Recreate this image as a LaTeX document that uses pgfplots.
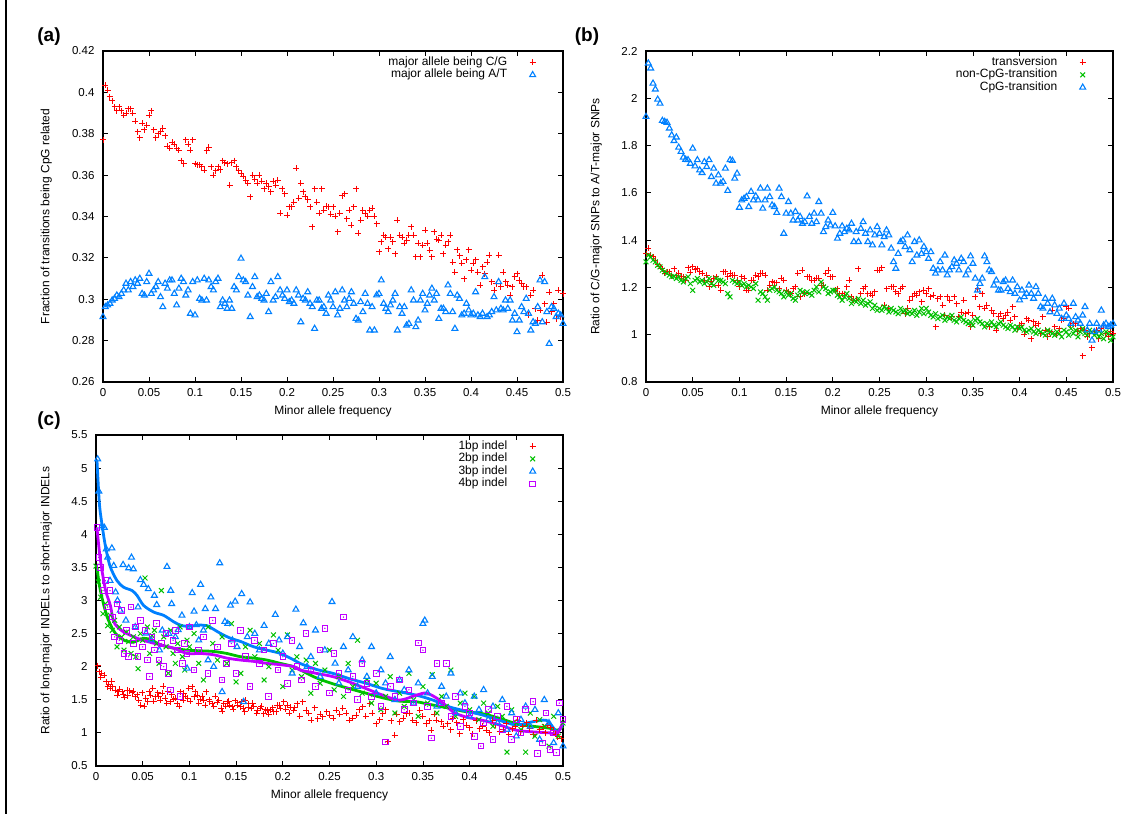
\documentclass[border=0pt]{standalone}
\usepackage{fontspec}
\setmainfont{Liberation Sans}
\usepackage{pgfplots}
\pgfplotsset{compat=1.18}
\usepackage{pgfplotstable}

\definecolor{gpred}{RGB}{255,0,0}
\definecolor{gpgreen}{RGB}{0,192,0}
\definecolor{gpblue}{RGB}{0,128,255}
\definecolor{gpmag}{RGB}{192,0,255}
\newcommand\fs{\fontsize{12}{14}\selectfont}
\newcommand\fst{\fontsize{11.5}{13.5}\selectfont}

% ---------- panel (a): x, C/G-major, A/T-major ----------
\pgfplotstableread{
x r b
0.0000 0.377 0.2915
0.0025 0.4035 0.2963
0.0050 0.401 0.2971
0.0075 0.398 0.2979
0.0100 0.396 0.2995
0.0125 0.393 0.3003
0.0150 0.391 0.3019
0.0175 0.393 0.3011
0.0200 0.391 0.3027
0.0225 0.389 0.3044
0.0250 0.390 0.3076
0.0275 0.392 0.3044
0.0300 0.392 0.3084
0.0325 0.390 0.3060
0.0350 0.386 0.3092
0.0375 0.381 0.3076
0.0400 0.378 0.3100
0.0425 0.385 0.3027
0.0450 0.382 0.3019
0.0475 0.384 0.3084
0.0500 0.389 0.3124
0.0525 0.391 0.3027
0.0550 0.382 0.3044
0.0575 0.378 0.3060
0.0600 0.380 0.3084
0.0625 0.381 0.3011
0.0650 0.3826 0.2963
0.0675 0.379 0.3076
0.0700 0.374 0.3052
0.0725 0.373 0.3092
0.0750 0.376 0.3092
0.0775 0.375 0.3027
0.0800 0.373 0.2971
0.0825 0.372 0.3052
0.0850 0.367 0.3100
0.0875 0.3655 0.3084
0.0900 0.377 0.3019
0.0925 0.375 0.3044
0.0950 0.372 0.2931
0.0975 0.377 0.3084
0.1000 0.3656 0.2923
0.1025 0.3650 0.3092
0.1050 0.365 0.3003
0.1075 0.364 0.2995
0.1100 0.3624 0.3100
0.1125 0.3717 0.2995
0.1150 0.3734 0.3092
0.1175 0.364 0.3060
0.1200 0.360 0.3044
0.1225 0.362 0.3084
0.1250 0.364 0.3100
0.1275 0.3625 0.2963
0.1300 0.367 0.2995
0.1325 0.366 0.2979
0.1350 0.3656 0.2955
0.1375 0.355 0.2995
0.1400 0.366 0.2955
0.1425 0.367 0.3060
0.1450 0.364 0.3044
0.1475 0.362 0.3108
0.1500 0.361 0.3197
0.1525 0.3595 0.3092
0.1550 0.3576 0.3084
0.1575 0.356 0.3019
0.1600 0.3495 0.2915
0.1625 0.360 0.3060
0.1650 0.358 0.3108
0.1675 0.356 0.3011
0.1700 0.360 0.3019
0.1725 0.357 0.3003
0.1750 0.3535 0.2995
0.1775 0.356 0.3027
0.1800 0.3544 0.2939
0.1825 0.352 0.3084
0.1850 0.357 0.2995
0.1875 0.355 0.3011
0.1900 0.3576 0.3108
0.1925 0.3415 0.3044
0.1950 0.3535 0.3019
0.1975 0.351 0.3003
0.2000 0.3407 0.3044
0.2025 0.3447 0.2987
0.2050 0.3447 0.2995
0.2075 0.347 0.2979
0.2100 0.3632 0.3044
0.2125 0.3487 0.3019
0.2150 0.356 0.2890
0.2175 0.352 0.3003
0.2200 0.3495 0.2995
0.2225 0.348 0.3035
0.2250 0.3447 0.2979
0.2275 0.335 0.2963
0.2300 0.3535 0.2858
0.2325 0.347 0.2995
0.2350 0.3415 0.2995
0.2375 0.3535 0.2955
0.2400 0.343 0.2963
0.2425 0.345 0.2931
0.2450 0.3447 0.3019
0.2475 0.341 0.2995
0.2500 0.3447 0.2963
0.2525 0.340 0.3035
0.2550 0.3326 0.2923
0.2575 0.3415 0.2955
0.2600 0.350 0.3044
0.2625 0.3511 0.2995
0.2650 0.339 0.2963
0.2675 0.343 0.3003
0.2700 0.3358 0.3035
0.2725 0.3447 0.2979
0.2750 0.3535 0.2906
0.2775 0.3318 0.2898
0.2800 0.3382 0.2987
0.2825 0.343 0.2939
0.2850 0.3415 0.3027
0.2875 0.340 0.2979
0.2900 0.343 0.2850
0.2925 0.344 0.2963
0.2950 0.340 0.2850
0.2975 0.3365 0.3020
0.3000 0.3229 0.3027
0.3025 0.3277 0.3092
0.3050 0.331 0.2979
0.3075 0.330 0.2955
0.3100 0.3245 0.2939
0.3125 0.330 0.2971
0.3150 0.3277 0.2995
0.3175 0.322 0.3027
0.3200 0.3382 0.2850
0.3225 0.331 0.2963
0.3250 0.330 0.2931
0.3275 0.327 0.2963
0.3300 0.3285 0.2874
0.3325 0.331 0.2882
0.3350 0.335 0.3044
0.3375 0.331 0.2995
0.3400 0.3205 0.2866
0.3425 0.327 0.2898
0.3450 0.3205 0.2995
0.3475 0.326 0.3027
0.3500 0.3334 0.2947
0.3525 0.327 0.2979
0.3550 0.3237 0.3019
0.3575 0.3205 0.3052
0.3600 0.3326 0.2995
0.3625 0.329 0.3027
0.3650 0.3285 0.2906
0.3675 0.331 0.2955
0.3700 0.322 0.2955
0.3725 0.326 0.2939
0.3750 0.3277 0.3068
0.3775 0.331 0.3027
0.3800 0.318 0.2939
0.3825 0.313 0.2858
0.3850 0.324 0.3019
0.3875 0.321 0.3003
0.3900 0.3173 0.2923
0.3925 0.310 0.2931
0.3950 0.319 0.2979
0.3975 0.324 0.2947
0.4000 0.314 0.2923
0.4025 0.3173 0.2931
0.4050 0.319 0.3035
0.4075 0.313 0.2923
0.4100 0.3068 0.2915
0.4125 0.3156 0.2931
0.4150 0.3124 0.3108
0.4175 0.3180 0.2915
0.4200 0.3213 0.2923
0.4225 0.3085 0.2939
0.4250 0.3044 0.3011
0.4275 0.3076 0.2947
0.4300 0.3213 0.3084
0.4325 0.3060 0.2955
0.4350 0.313 0.2947
0.4375 0.3085 0.2995
0.4400 0.3068 0.2955
0.4425 0.3019 0.2995
0.4450 0.306 0.2898
0.4475 0.3108 0.2931
0.4500 0.3124 0.2842
0.4525 0.3092 0.2898
0.4550 0.3076 0.2963
0.4575 0.3060 0.2939
0.4600 0.306 0.3003
0.4625 0.2923 0.2931
0.4650 0.3019 0.2850
0.4675 0.3044 0.2890
0.4700 0.2955 0.2882
0.4725 0.2898 0.2963
0.4750 0.2947 0.3092
0.4775 0.3116 0.2890
0.4800 0.2979 0.3084
0.4825 0.2890 0.2939
0.4850 0.3035 0.2785
0.4875 0.2939 0.2963
0.4900 0.2979 0.2955
0.4925 0.2906 0.2915
0.4950 0.3044 0.2931
0.4975 0.2915 0.2923
0.5000 0.3027 0.2882
}\tabA

% ---------- panel (b): x, transversion, non-CpG, CpG ----------
\pgfplotstableread{
x r g b
0.0000 1.343 1.308 1.922
0.0025 1.365 1.336 2.148
0.0050 1.336 1.329 2.127
0.0075 1.329 1.315 2.063
0.0100 1.315 1.308 2.038
0.0125 1.298 1.294 1.995
0.0150 1.287 1.287 1.978
0.0175 1.280 1.273 1.905
0.0200 1.259 1.266 1.901
0.0225 1.266 1.259 1.897
0.0250 1.266 1.252 1.873
0.0275 1.250 1.245 1.844
0.0300 1.280 1.247 1.820
0.0325 1.252 1.238 1.835
0.0350 1.259 1.245 1.792
0.0375 1.247 1.230 1.774
0.0400 1.245 1.223 1.750
0.0425 1.230 1.238 1.741
0.0450 1.284 1.245 1.739
0.0475 1.265 1.216 1.724
0.0500 1.287 1.188 1.788
0.0525 1.275 1.230 1.713
0.0550 1.280 1.238 1.739
0.0575 1.266 1.223 1.696
0.0600 1.259 1.230 1.685
0.0625 1.230 1.216 1.731
0.0650 1.252 1.223 1.710
0.0675 1.202 1.238 1.739
0.0700 1.223 1.216 1.668
0.0725 1.238 1.209 1.703
0.0750 1.245 1.238 1.640
0.0775 1.209 1.230 1.675
0.0800 1.188 1.230 1.640
0.0825 1.266 1.223 1.647
0.0850 1.266 1.216 1.703
0.0875 1.245 1.174 1.609
0.0900 1.259 1.160 1.739
0.0925 1.252 1.230 1.736
0.0950 1.252 1.223 1.661
0.0975 1.230 1.216 1.682
0.1000 1.202 1.223 1.538
0.1025 1.245 1.209 1.569
0.1050 1.238 1.216 1.576
0.1075 1.188 1.202 1.583
0.1100 1.188 1.209 1.541
0.1125 1.230 1.202 1.605
0.1150 1.230 1.195 1.569
0.1175 1.252 1.216 1.586
0.1200 1.245 1.146 1.569
0.1225 1.259 1.181 1.619
0.1250 1.259 1.174 1.534
0.1275 1.252 1.160 1.569
0.1300 1.188 1.146 1.619
0.1325 1.209 1.188 1.583
0.1350 1.223 1.195 1.548
0.1375 1.219 1.202 1.541
0.1400 1.219 1.188 1.516
0.1425 1.195 1.181 1.619
0.1450 1.238 1.174 1.583
0.1475 1.230 1.160 1.428
0.1500 1.188 1.181 1.513
0.1525 1.181 1.167 1.562
0.1550 1.174 1.174 1.513
0.1575 1.195 1.153 1.484
0.1600 1.202 1.146 1.520
0.1625 1.259 1.167 1.484
0.1650 1.160 1.188 1.499
0.1675 1.273 1.181 1.470
0.1700 1.174 1.174 1.477
0.1725 1.245 1.181 1.586
0.1750 1.245 1.174 1.499
0.1775 1.230 1.167 1.470
0.1800 1.230 1.188 1.513
0.1825 1.238 1.202 1.477
0.1850 1.238 1.181 1.562
0.1875 1.209 1.223 1.513
0.1900 1.209 1.202 1.435
0.1925 1.259 1.195 1.456
0.1950 1.273 1.174 1.484
0.1975 1.245 1.181 1.463
0.2000 1.245 1.188 1.516
0.2025 1.188 1.188 1.459
0.2050 1.195 1.167 1.407
0.2075 1.174 1.160 1.428
0.2100 1.174 1.146 1.459
0.2125 1.167 1.160 1.435
0.2150 1.202 1.174 1.449
0.2175 1.230 1.153 1.442
0.2200 1.160 1.132 1.470
0.2225 1.146 1.146 1.393
0.2250 1.146 1.139 1.435
0.2275 1.280 1.153 1.393
0.2300 1.174 1.132 1.449
0.2325 1.195 1.146 1.477
0.2350 1.202 1.125 1.428
0.2375 1.174 1.132 1.393
0.2400 1.174 1.139 1.442
0.2425 1.167 1.111 1.379
0.2450 1.181 1.125 1.421
0.2475 1.273 1.103 1.456
0.2500 1.273 1.111 1.428
0.2525 1.284 1.103 1.379
0.2550 1.125 1.118 1.414
0.2575 1.195 1.111 1.442
0.2600 1.111 1.096 1.421
0.2625 1.202 1.111 1.365
0.2650 1.202 1.103 1.308
0.2675 1.181 1.096 1.280
0.2700 1.174 1.089 1.343
0.2725 1.195 1.111 1.393
0.2750 1.202 1.096 1.400
0.2775 1.089 1.103 1.372
0.2800 1.111 1.089 1.421
0.2825 1.146 1.096 1.358
0.2850 1.160 1.089 1.308
0.2875 1.174 1.103 1.393
0.2900 1.167 1.082 1.336
0.2925 1.181 1.096 1.400
0.2950 1.139 1.111 1.343
0.2975 1.188 1.089 1.372
0.3000 1.174 1.111 1.350
0.3025 1.195 1.096 1.322
0.3050 1.160 1.082 1.350
0.3075 1.167 1.075 1.280
0.3100 1.033 1.089 1.259
0.3125 1.153 1.068 1.273
0.3150 1.160 1.075 1.308
0.3175 1.125 1.082 1.273
0.3200 1.082 1.061 1.336
0.3225 1.160 1.075 1.252
0.3250 1.146 1.068 1.273
0.3275 1.075 1.082 1.287
0.3300 1.160 1.061 1.315
0.3325 1.132 1.054 1.301
0.3350 1.075 1.068 1.273
0.3375 1.096 1.075 1.322
0.3400 1.146 1.061 1.308
0.3425 1.089 1.054 1.252
0.3450 1.096 1.047 1.273
0.3475 1.033 1.054 1.332
0.3500 1.082 1.040 1.301
0.3525 1.160 1.061 1.238
0.3550 1.195 1.068 1.188
0.3575 1.118 1.054 1.216
0.3600 1.174 1.047 1.238
0.3625 1.111 1.033 1.332
0.3650 1.125 1.047 1.308
0.3675 1.033 1.040 1.273
0.3700 1.103 1.054 1.266
0.3725 1.089 1.040 1.209
0.3750 1.019 1.033 1.230
0.3775 1.075 1.047 1.188
0.3800 1.089 1.054 1.188
0.3825 1.068 1.040 1.223
0.3850 1.082 1.033 1.230
0.3875 1.096 1.026 1.195
0.3900 1.061 1.040 1.181
0.3925 1.118 1.033 1.230
0.3950 1.075 1.019 1.174
0.3975 1.026 1.033 1.202
0.4000 1.040 1.026 1.146
0.4025 1.047 1.033 1.188
0.4050 1.002 1.019 1.160
0.4075 1.068 1.012 1.174
0.4100 1.061 1.019 1.209
0.4125 0.983 1.026 1.174
0.4150 1.054 1.012 1.153
0.4175 1.040 1.005 1.202
0.4200 1.047 1.019 1.174
0.4225 1.005 1.012 1.118
0.4250 1.075 1.005 1.111
0.4275 1.019 0.998 1.153
0.4300 0.991 1.019 1.132
0.4325 1.012 1.012 1.096
0.4350 1.103 1.005 1.153
0.4375 1.033 0.998 1.125
0.4400 1.005 1.012 1.089
0.4425 1.026 1.005 1.111
0.4450 1.061 0.991 1.068
0.4475 1.068 1.019 1.132
0.4500 1.118 1.012 1.082
0.4525 1.111 0.998 1.068
0.4550 1.040 1.026 1.047
0.4575 1.047 1.005 1.132
0.4600 1.047 1.019 1.075
0.4625 1.012 0.991 1.061
0.4650 1.026 1.012 1.047
0.4675 0.910 1.026 1.082
0.4700 1.019 1.005 1.118
0.4725 0.991 0.998 1.019
0.4750 1.005 1.019 1.047
0.4775 0.945 1.012 0.976
0.4800 1.012 0.998 1.012
0.4825 1.019 1.005 1.047
0.4850 0.983 0.991 1.019
0.4875 1.026 1.005 1.103
0.4900 1.040 0.983 1.040
0.4925 1.005 1.012 1.047
0.4950 0.991 1.005 1.033
0.4975 1.012 0.976 1.040
0.5000 1.005 0.991 1.047
}\tabB

% ---------- panel (c) ----------
\pgfplotstableread{
x y
0.0018 2.015
0.0036 1.924
0.0050 1.84
0.0064 1.899
0.0089 1.874
0.0110 1.773
0.0125 1.70
0.0136 1.737
0.0154 1.672
0.0170 1.78
0.0180 1.697
0.0207 1.646
0.0225 1.571
0.0240 1.62
0.0254 1.656
0.0279 1.621
0.0290 1.58
0.0304 1.535
0.0332 1.646
0.0340 1.56
0.0360 1.636
0.0386 1.606
0.0400 1.63
0.0420 1.545
0.0440 1.58
0.0457 1.495
0.0480 1.42
0.0493 1.606
0.0518 1.404
0.0530 1.52
0.0554 1.470
0.0570 1.62
0.0582 1.571
0.0607 1.672
0.0620 1.48
0.0636 1.545
0.0661 1.606
0.0670 1.55
0.0690 1.495
0.0710 1.60
0.0718 1.707
0.0743 1.520
0.0760 1.45
0.0768 1.621
0.0796 1.470
0.0810 1.58
0.0832 1.505
0.0850 1.52
0.0868 1.444
0.0890 1.40
0.0904 1.621
0.0932 1.495
0.0940 1.60
0.0957 1.555
0.0980 1.52
0.0993 1.672
0.1010 1.48
0.1029 1.697
0.1054 1.545
0.1060 1.62
0.1082 1.571
0.1100 1.45
0.1118 1.505
0.1140 1.55
0.1154 1.495
0.1170 1.42
0.1182 1.621
0.1210 1.50
0.1218 1.470
0.1243 1.444
0.1260 1.40
0.1279 1.555
0.1300 1.46
0.1314 1.495
0.1339 1.369
0.1350 1.33
0.1368 1.444
0.1390 1.40
0.1404 1.470
0.1420 1.48
0.1432 1.419
0.1457 1.394
0.1470 1.36
0.1493 1.485
0.1510 1.42
0.1518 1.454
0.1546 1.394
0.1560 1.47
0.1575 1.369
0.1590 1.32
0.1600 1.495
0.1630 1.38
0.1636 1.444
0.1661 1.369
0.1680 1.45
0.1689 1.404
0.1720 1.30
0.1725 1.343
0.1761 1.369
0.1770 1.40
0.1796 1.293
0.1810 1.35
0.1832 1.343
0.1850 1.28
0.1868 1.353
0.1890 1.38
0.1904 1.318
0.1930 1.32
0.1939 1.419
0.1970 1.42
0.1975 1.369
0.2011 1.470
0.2030 1.36
0.2046 1.419
0.2070 1.30
0.2082 1.384
0.2118 1.343
0.2130 1.38
0.2154 1.444
0.2180 1.25
0.2214 1.470
0.2250 1.343
0.2280 1.30
0.2304 1.192
0.2340 1.38
0.2375 1.217
0.2400 1.28
0.2429 1.242
0.2470 1.32
0.2500 1.268
0.2540 1.22
0.2571 1.343
0.2610 1.28
0.2643 1.369
0.2680 1.30
0.2714 1.192
0.2750 1.22
0.2786 1.268
0.2820 1.35
0.2857 1.394
0.2890 1.25
0.2929 1.444
0.2960 1.30
0.3000 1.141
0.3040 1.20
0.3071 1.293
0.3100 1.35
0.3125 0.864
0.3160 1.18
0.3196 0.965
0.3220 1.28
0.3250 1.167
0.3290 1.22
0.3321 1.293
0.3360 1.30
0.3393 1.192
0.3430 1.15
0.3464 1.343
0.3500 1.25
0.3536 1.141
0.3570 1.18
0.3589 1.040
0.3620 1.28
0.3643 1.192
0.3696 1.167
0.3720 1.10
0.3768 1.141
0.3800 1.05
0.3821 1.217
0.3860 1.15
0.3893 0.990
0.3930 1.20
0.3964 1.116
0.4000 1.08
0.4036 0.990
0.4070 1.18
0.4107 1.066
0.4140 1.10
0.4179 1.040
0.4210 1.00
0.4250 1.192
0.4280 1.12
0.4321 1.015
0.4360 1.05
0.4393 1.141
0.4420 0.98
0.4464 1.066
0.4490 1.10
0.4518 1.192
0.4550 1.02
0.4571 1.091
0.4610 1.15
0.4643 1.066
0.4680 0.97
0.4714 1.192
0.4750 1.05
0.4786 1.091
0.4810 1.00
0.4839 1.116
0.4870 1.08
0.4893 1.040
0.4920 0.98
0.4946 0.939
0.4982 0.914
}\tabCr

\pgfplotstableread{
x y
0.0000 3.52
0.0025 3.28
0.0050 3.05
0.0075 2.80
0.0100 2.95
0.0125 2.62
0.0150 2.78
0.0175 2.55
0.0200 2.70
0.0225 2.30
0.0250 2.60
0.0275 2.45
0.0300 2.25
0.0325 2.52
0.0350 2.38
0.0375 2.20
0.0400 2.45
0.0425 2.15
0.0450 1.97
0.0475 2.50
0.0500 2.40
0.0525 3.34
0.0550 2.60
0.0575 2.20
0.0600 2.47
0.0625 2.55
0.0650 2.35
0.0675 2.05
0.0700 3.15
0.0725 2.45
0.0750 2.30
0.0775 1.90
0.0800 2.55
0.0825 2.20
0.0850 2.05
0.0875 2.35
0.0900 2.60
0.0925 2.15
0.0950 1.95
0.0975 2.40
0.100 2.30
0.105 2.50
0.110 2.05
0.115 1.80
0.120 2.60
0.125 2.35
0.130 2.10
0.135 2.45
0.140 2.05
0.145 2.65
0.150 1.77
0.155 1.90
0.160 2.30
0.165 2.55
0.170 2.15
0.175 2.35
0.180 1.80
0.185 2.00
0.190 2.48
0.195 2.25
0.200 1.70
0.205 2.48
0.210 1.95
0.215 2.15
0.220 1.85
0.225 2.10
0.230 1.60
0.235 2.05
0.240 1.75
0.245 1.95
0.250 2.25
0.255 1.65
0.260 1.85
0.265 1.55
0.270 2.05
0.275 1.70
0.280 2.40
0.285 1.60
0.290 1.80
0.295 1.45
0.300 1.75
0.305 1.35
0.310 1.55
0.315 1.85
0.320 1.30
0.325 1.60
0.330 1.40
0.335 1.90
0.340 1.50
0.345 1.25
0.350 1.70
0.355 1.45
0.360 1.88
0.365 1.30
0.370 1.55
0.375 1.40
0.380 1.95
0.385 1.25
0.390 1.45
0.395 1.60
0.400 1.35
0.405 1.55
0.410 1.20
0.415 1.45
0.420 1.30
0.425 1.10
0.430 1.40
0.435 1.25
0.440 0.71
0.445 1.35
0.450 1.15
0.455 1.05
0.460 0.71
0.465 1.30
0.470 0.95
0.475 1.20
0.480 1.10
0.485 0.80
0.490 1.25
0.495 0.95
0.500 1.15
}\tabCg

\pgfplotstableread{
x y
0.0018 5.135
0.0030 4.65
0.0064 4.125
0.0090 4.10
0.0110 3.775
0.0125 3.65
0.0150 3.30
0.0170 3.79
0.0190 3.525
0.0210 3.125
0.0230 3.00
0.0260 2.85
0.0290 3.54
0.0320 2.70
0.0350 3.49
0.0380 3.65
0.0400 3.475
0.0420 2.60
0.0450 2.90
0.0475 3.31
0.0510 3.24
0.0536 2.505
0.0560 3.175
0.0590 2.40
0.0625 3.075
0.0650 2.935
0.0680 2.25
0.0710 2.55
0.0760 3.51
0.0780 2.50
0.0800 3.15
0.0810 2.95
0.0850 2.45
0.0880 2.555
0.0920 2.775
0.0975 1.975
0.1000 2.60
0.1030 3.115
0.1050 2.835
0.1075 2.63
0.1100 2.40
0.1120 3.24
0.1150 2.55
0.1170 2.875
0.1200 2.10
0.1230 3.05
0.1260 2.00
0.1280 2.875
0.1325 3.565
0.1350 1.62
0.1380 2.68
0.1410 2.65
0.1440 2.925
0.1460 2.40
0.1490 2.985
0.1510 2.30
0.1560 3.10
0.1580 1.47
0.1620 2.45
0.1650 2.975
0.1700 2.50
0.1750 2.25
0.1800 2.62
0.1850 2.35
0.1920 2.785
0.1960 2.40
0.2000 2.20
0.2050 2.45
0.2100 1.90
0.2140 2.865
0.2180 2.30
0.2220 2.66
0.2260 2.00
0.2300 2.15
0.2350 2.55
0.2400 1.85
0.2450 2.25
0.2527 2.98
0.2560 2.05
0.2600 1.75
0.2650 2.30
0.2700 1.95
0.2750 2.45
0.2800 1.70
0.2850 2.10
0.2900 1.85
0.2950 2.30
0.3000 1.60
0.3050 1.95
0.3100 1.75
0.3150 2.15
0.3200 1.50
0.3250 1.80
0.3300 1.65
0.3350 1.95
0.3400 1.45
0.3450 1.75
0.3500 2.65
0.3520 2.70
0.3550 1.60
0.3600 1.85
0.3650 1.40
0.3700 1.70
0.3750 1.55
0.3800 1.90
0.3850 1.30
0.3900 1.60
0.3950 1.45
0.4000 1.25
0.4050 1.55
0.4100 1.35
0.4150 1.65
0.4200 1.20
0.4250 1.40
0.4300 1.15
0.4350 1.50
0.4400 1.05
0.4450 1.30
0.4500 0.95
0.4550 1.20
0.4600 1.40
0.4650 1.10
0.4700 1.35
0.4750 0.90
0.4800 1.50
0.4850 1.15
0.4900 0.85
0.4950 1.30
0.5000 0.80
}\tabCb

\pgfplotstableread{
x y
0.0010 4.10
0.0030 3.65
0.0050 3.50
0.0075 3.15
0.0100 3.30
0.0125 2.90
0.0150 3.15
0.0175 2.75
0.0200 2.45
0.0225 2.95
0.0250 2.40
0.0275 2.85
0.0300 2.20
0.0325 2.55
0.0350 2.15
0.0375 2.90
0.0400 2.35
0.0425 2.60
0.0450 2.15
0.0475 2.70
0.0500 2.30
0.0525 2.55
0.0550 2.10
0.0575 1.85
0.0600 2.45
0.0625 2.25
0.0650 2.65
0.0675 2.10
0.0700 2.35
0.0725 2.00
0.0750 2.50
0.0775 1.90
0.0800 1.65
0.0825 2.40
0.0850 2.55
0.0875 2.25
0.0900 1.55
0.0925 2.05
0.0950 2.35
0.0975 2.20
0.100 2.60
0.105 1.95
0.110 2.25
0.115 2.45
0.120 1.90
0.125 2.70
0.130 2.30
0.135 1.80
0.140 2.05
0.145 2.35
0.150 1.90
0.155 2.55
0.160 2.15
0.165 1.70
0.170 2.40
0.175 2.05
0.180 2.25
0.185 1.55
0.190 2.35
0.195 1.95
0.200 2.15
0.205 1.75
0.210 2.40
0.215 2.00
0.220 1.80
0.225 2.50
0.230 1.95
0.235 1.70
0.240 2.25
0.245 2.58
0.250 1.60
0.255 2.20
0.260 1.90
0.265 2.75
0.270 1.65
0.275 1.85
0.280 1.50
0.285 2.05
0.290 1.75
0.295 1.55
0.300 1.90
0.305 1.40
0.310 0.86
0.315 1.70
0.320 1.55
0.325 1.80
0.330 1.35
0.335 1.65
0.340 1.45
0.345 2.36
0.350 2.25
0.355 1.40
0.359 0.92
0.365 2.05
0.370 1.45
0.375 2.05
0.380 1.25
0.385 1.55
0.390 1.10
0.395 1.40
0.400 1.30
0.405 0.95
0.412 0.80
0.415 1.15
0.420 1.35
0.425 0.90
0.430 1.25
0.435 1.05
0.440 1.40
0.445 0.90
0.450 1.20
0.455 1.00
0.460 1.35
0.468 1.47
0.473 0.69
0.478 0.85
0.482 1.30
0.486 0.75
0.490 1.00
0.493 0.70
0.496 1.45
0.500 1.20
}\tabCm

\pgfplotsset{
  gp/.style={
    scale only axis,
    xmin=0, xmax=0.5,
    xtick={0,0.05,0.1,0.15,0.2,0.25,0.3,0.35,0.4,0.45,0.5},
    tick align=inside,
    major tick length=5pt,
    axis line style={line width=1.1pt},
    every tick/.style={line width=0.8pt, black},
    tick label style={font=\fst},
    xticklabel style={yshift=-3pt},
    yticklabel style={xshift=-5pt},
    label style={font=\fs},
    /pgf/number format/fixed,
    /pgf/number format/precision=2,
    /pgf/number format/assume math mode=true,
    xlabel={Minor allele frequency},
    xlabel style={at={(axis description cs:0.5,-0.09)}, anchor=center},
    legend cell align=right,
    legend plot pos=right,
    legend style={draw=none, fill=none, inner sep=0pt, font=\fs,
      nodes={inner sep=0.5pt, text height=8.5pt, text depth=3pt},
      /tikz/every odd column/.append style={column sep=22pt}},
    clip=false,
  },
  pr/.style={only marks, mark=+, mark size=3pt, color=gpred, mark options={line width=1pt}},
  pg/.style={only marks, mark=x, mark size=3.4pt, color=gpgreen, mark options={line width=1pt}},
  pb/.style={only marks, mark=triangle, mark size=3.4pt, color=gpblue, mark options={line width=1.1pt}},
  pm/.style={only marks, mark=square, mark size=2.8pt, color=gpmag, mark options={line width=1pt}},
}

\begin{document}
\begin{tikzpicture}[x=1pt,y=1pt]
\useasboundingbox (0,0) rectangle (1136,814);
\draw[line width=2.4pt] (6.2,0) -- (6.2,814);
\node[font=\bfseries\fontsize{19}{22}\selectfont] at (49,777) {(a)};
\node[font=\bfseries\fontsize{19}{22}\selectfont] at (587,777) {(b)};
\node[font=\bfseries\fontsize{19}{22}\selectfont] at (49,393.5) {(c)};

% (a)
\begin{axis}[gp, at={(103pt,432pt)}, anchor=south west, width=460pt, height=331pt,
  ymin=0.26, ymax=0.42, ytick={0.26,0.28,0.3,0.32,0.34,0.36,0.38,0.4,0.42},
  ylabel={Fraction of transitions being CpG related},
  ylabel style={at={(axis description cs:-0.1235,0.5)}, anchor=center},
  legend style={at={(axis description cs:0.941,0.985)}, anchor=north east}]
\addplot[pr] table[x=x,y=r]{\tabA};
\addlegendentry{major allele being C/G}
\addplot[pb] table[x=x,y=b]{\tabA};
\addlegendentry{major allele being A/T}
\end{axis}

% (b)
\begin{axis}[gp, at={(646pt,432pt)}, anchor=south west, width=467pt, height=331pt,
  ymin=0.8, ymax=2.2, ytick={0.8,1,1.2,1.4,1.6,1.8,2,2.2},
  ylabel={Ratio of C/G-major SNPs to A/T-major SNPs},
  ylabel style={at={(axis description cs:-0.1066,0.5)}, anchor=center},
  legend style={at={(axis description cs:0.942,0.985)}, anchor=north east}]
\addplot[pr] table[x=x,y=r]{\tabB};
\addlegendentry{transversion}
\addplot[pg] table[x=x,y=g]{\tabB};
\addlegendentry{non-CpG-transition}
\addplot[pb] table[x=x,y=b]{\tabB};
\addlegendentry{CpG-transition}
\end{axis}

% (c)
\begin{axis}[gp, at={(96pt,48pt)}, anchor=south west, width=467pt, height=331pt,
  ymin=0.5, ymax=5.5, ytick={0.5,1,1.5,2,2.5,3,3.5,4,4.5,5,5.5},
  ylabel={Ratio of long-major INDELs to short-major INDELs},
  ylabel style={at={(axis description cs:-0.1066,0.5)}, anchor=center},
  legend style={at={(axis description cs:0.942,0.985)}, anchor=north east}]
\addplot[pr] table[x=x,y=y]{\tabCr};
\addlegendentry{1bp indel}
\addplot[pg] table[x=x,y=y]{\tabCg};
\addlegendentry{2bp indel}
\addplot[pb] table[x=x,y=y]{\tabCb};
\addlegendentry{3bp indel}
\addplot[pm] table[x=x,y=y]{\tabCm};
\addlegendentry{4bp indel}
\addplot[forget plot, only marks, mark=*, mark size=0.45pt, color=gpmag] table[x=x,y=y]{\tabCm};
% smooth curves
\addplot[forget plot, color=gpgreen, line width=2.8pt, smooth, tension=0.5] coordinates {
(0.001,3.5) (0.004,3.2) (0.008,2.95) (0.012,2.75) (0.016,2.62) (0.021,2.5) (0.03,2.40) (0.04,2.37) (0.051,2.43) (0.06,2.40) (0.069,2.33) (0.083,2.28) (0.0975,2.25) (0.112,2.24) (0.126,2.23) (0.14,2.20) (0.155,2.15) (0.169,2.13) (0.183,2.10) (0.1975,2.05) (0.212,2.0) (0.219,1.95) (0.236,1.83) (0.254,1.74) (0.271,1.67) (0.289,1.60) (0.307,1.53) (0.325,1.48) (0.343,1.47) (0.361,1.42) (0.379,1.37) (0.396,1.32) (0.414,1.29) (0.432,1.22) (0.45,1.14) (0.468,1.10) (0.486,1.07) (0.494,1.04) (0.5,1.10)};
\addplot[forget plot, color=gpblue, line width=2.8pt, smooth, tension=0.5] coordinates {
(0.001,5.13) (0.0036,4.47) (0.0064,4.15) (0.01,3.83) (0.015,3.52) (0.0225,3.30) (0.0296,3.2) (0.0386,3.15) (0.044,3.075) (0.051,2.925) (0.0618,2.825) (0.0725,2.775) (0.083,2.68) (0.09,2.63) (0.0975,2.61) (0.112,2.63) (0.119,2.62) (0.133,2.505) (0.144,2.43) (0.155,2.38) (0.169,2.30) (0.183,2.25) (0.1975,2.20) (0.212,2.10) (0.2184,2.05) (0.2357,1.96) (0.2536,1.90) (0.271,1.82) (0.289,1.75) (0.307,1.67) (0.325,1.62) (0.343,1.57) (0.361,1.495) (0.379,1.39) (0.396,1.33) (0.414,1.27) (0.432,1.19) (0.45,1.12) (0.468,1.17) (0.482,1.19) (0.489,1.09) (0.494,1.015) (0.5,1.14)};
\addplot[forget plot, color=gpmag, line width=2.8pt, smooth, tension=0.5] coordinates {
(0.001,4.1) (0.0046,3.625) (0.01,3.17) (0.0154,2.925) (0.019,2.68) (0.026,2.56) (0.033,2.5) (0.044,2.43) (0.055,2.38) (0.069,2.33) (0.083,2.28) (0.0975,2.20) (0.112,2.20) (0.126,2.18) (0.14,2.13) (0.155,2.10) (0.169,2.08) (0.183,2.05) (0.1975,2.03) (0.212,2.0) (0.2184,1.95) (0.2357,1.90) (0.2536,1.85) (0.271,1.77) (0.289,1.67) (0.307,1.57) (0.325,1.495) (0.343,1.57) (0.354,1.6) (0.368,1.495) (0.382,1.32) (0.396,1.24) (0.414,1.19) (0.432,1.12) (0.45,1.04) (0.468,1.015) (0.486,1.0) (0.494,0.99) (0.5,1.17)};
\end{axis}
\end{tikzpicture}
\end{document}
